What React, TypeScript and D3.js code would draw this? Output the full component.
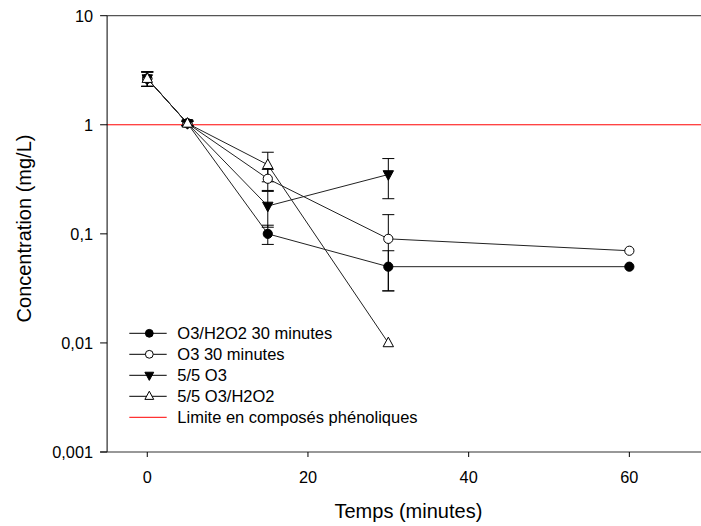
import React from "react";
import * as d3 from "d3";

const W = 701;
const H = 526;

const seriesNames = ["O3/H2O2 30 minutes", "O3 30 minutes", "5/5 O3", "5/5 O3/H2O2"];
const seriesMarkers = ["circleFilled", "circleOpen", "triDown", "triUp"];

const timesLong = [0, 5, 15, 30, 60];
const timesShort = [0, 5, 15, 30];

const o3h2o2_30_values = [2.65, 1.03, 0.1, 0.05, 0.05];
const o3h2o2_30_errors = [0.4, 0.05, 0.02, 0.02, 0];

const o3_30_values = [2.65, 1.03, 0.32, 0.09, 0.07];
const o3_30_errors = [0.4, 0.05, 0.07, 0.06, 0];

const o3_55_values = [2.65, 1.03, 0.18, 0.35];
const o3_55_errors = [0.4, 0.05, 0.065, 0.14];

const o3h2o2_55_values = [2.65, 1.03, 0.43, 0.01];
const o3h2o2_55_errors = [0.4, 0.05, 0.13, 0];

const limitValue = 1;
const limitLabel = "Limite en composés phénoliques";

const xTicks = [0, 20, 40, 60];
const yTicks = [10, 1, 0.1, 0.01, 0.001];
const yTickLabels = ["10", "1", "0,1", "0,01", "0,001"];

const xTitle = "Temps (minutes)";
const yTitle = "Concentration (mg/L)";

const FONT = "'Liberation Sans', Arial, sans-serif";

function Marker({ type, cx, cy, s = 1 }: { type: string; cx: number; cy: number; s?: number }) {
  if (type === "circleFilled" || type === "circleOpen") {
    return (
      <circle
        cx={cx}
        cy={cy}
        r={4.6 * s}
        fill={type === "circleFilled" ? "#000" : "#fff"}
        stroke="#000"
        strokeWidth={1}
      />
    );
  }
  const hw = 5.2 * s;
  const hh = 4.8 * s;
  const pts =
    type === "triUp"
      ? [[cx, cy - hh - 1], [cx + hw, cy + hh - 1], [cx - hw, cy + hh - 1]]
      : [[cx, cy + hh + 1], [cx + hw, cy - hh + 1], [cx - hw, cy - hh + 1]];
  return (
    <polygon
      points={pts.map((p) => p.join(",")).join(" ")}
      fill={type === "triDown" ? "#000" : "#fff"}
      stroke="#000"
      strokeWidth={1}
    />
  );
}

export default function App() {
  const x = d3.scaleLinear().domain([-5, 70]).range([107.1, 709.7]);
  const y = d3.scaleLog().domain([0.001, 10]).range([452, 15.7]);

  const series = [
    { name: seriesNames[0], marker: seriesMarkers[0], xs: timesLong, ys: o3h2o2_30_values, es: o3h2o2_30_errors },
    { name: seriesNames[1], marker: seriesMarkers[1], xs: timesLong, ys: o3_30_values, es: o3_30_errors },
    { name: seriesNames[2], marker: seriesMarkers[2], xs: timesShort, ys: o3_55_values, es: o3_55_errors },
    { name: seriesNames[3], marker: seriesMarkers[3], xs: timesShort, ys: o3h2o2_55_values, es: o3h2o2_55_errors },
  ];

  const line = d3
    .line<[number, number]>()
    .x((d) => x(d[0]))
    .y((d) => y(d[1]));

  const left = x(-5);
  const right = x(70);
  const top = y(10);
  const bottom = y(0.001);

  const legendX = 129.3;
  const legendY0 = 333.3;
  const legendDy = 21;

  return (
    <svg
      width={W}
      height={H}
      style={{ position: "absolute", left: 0, top: 0, background: "#fff" }}
      fontFamily={FONT}
    >
      <rect x={0} y={0} width={W} height={H} fill="#fff" />
      <defs>
        <clipPath id="plot">
          <rect x={left} y={top - 10} width={right - left + 10} height={bottom - top + 20} />
        </clipPath>
      </defs>

      {/* frame */}
      <line x1={left} x2={right} y1={top} y2={top} stroke="#555" strokeWidth={1.2} />
      <line x1={right} x2={right} y1={top} y2={bottom} stroke="#555" strokeWidth={1.2} />

      {/* limit line */}
      <line x1={left} x2={right} y1={y(limitValue)} y2={y(limitValue)} stroke="#ff0000" strokeWidth={1} />

      {/* series lines */}
      {series.map((s, i) => (
        <path
          key={"l" + i}
          d={line(s.xs.map((t, j) => [t, s.ys[j]] as [number, number])) || ""}
          fill="none"
          stroke="#222"
          strokeWidth={1}
        />
      ))}

      {/* error bars */}
      {series.map((s, i) =>
        s.xs.map((t, j) => {
          const e = s.es[j];
          if (!e) return null;
          const cx = x(t);
          const y1 = y(s.ys[j] + e);
          const y2 = y(Math.max(s.ys[j] - e, 0.0011));
          return (
            <g key={"e" + i + "-" + j} stroke="#000" strokeWidth={1}>
              <line x1={cx} x2={cx} y1={y1} y2={y2} />
              <line x1={cx - 6} x2={cx + 6} y1={y1} y2={y1} />
              <line x1={cx - 6} x2={cx + 6} y1={y2} y2={y2} />
            </g>
          );
        })
      )}

      {/* markers */}
      {series.map((s, i) =>
        s.xs.map((t, j) => (
          <Marker key={"m" + i + "-" + j} type={s.marker} cx={x(t)} cy={y(s.ys[j])} />
        ))
      )}

      {/* axes */}
      <line x1={left} x2={left} y1={top} y2={bottom} stroke="#000" strokeWidth={1} />
      <line x1={left - 7} x2={right} y1={bottom} y2={bottom} stroke="#333" strokeWidth={1.2} />

      {yTicks.map((v, i) => (
        <g key={"yt" + i}>
          <line x1={left - 7} x2={left} y1={y(v)} y2={y(v)} stroke="#000" strokeWidth={1} />
          <text
            x={93}
            y={y(v)}
            dy="0.36em"
            textAnchor="end"
            fontSize={16.3}
            fill="#000"
          >
            {yTickLabels[i]}
          </text>
        </g>
      ))}

      {xTicks.map((v, i) => (
        <g key={"xt" + i}>
          <line x1={x(v)} x2={x(v)} y1={bottom} y2={bottom + 5} stroke="#000" strokeWidth={1} />
          <text x={x(v)} y={483} textAnchor="middle" fontSize={16.3} fill="#000">
            {String(v)}
          </text>
        </g>
      ))}

      <text x={(left + right) / 2} y={518} textAnchor="middle" fontSize={20} fill="#000">
        {xTitle}
      </text>
      <text
        transform={`translate(31, ${228.5}) rotate(-90)`}
        textAnchor="middle"
        fontSize={20}
        fill="#000"
      >
        {yTitle}
      </text>

      {/* legend */}
      {series.map((s, i) => {
        const ly = legendY0 + i * legendDy;
        return (
          <g key={"lg" + i}>
            <line x1={legendX} x2={legendX + 37.4} y1={ly} y2={ly} stroke="#000" strokeWidth={1} />
            <Marker type={s.marker} cx={legendX + 20} cy={ly} s={0.85} />
            <text x={177.3} y={ly + 5.6} fontSize={16.5} fill="#000">
              {s.name}
            </text>
          </g>
        );
      })}
      <line
        x1={legendX}
        x2={legendX + 37.4}
        y1={legendY0 + 4 * legendDy}
        y2={legendY0 + 4 * legendDy}
        stroke="#ff0000"
        strokeWidth={1}
      />
      <text x={177.3} y={legendY0 + 4 * legendDy + 5.6} fontSize={16.5} fill="#000">
        {limitLabel}
      </text>
    </svg>
  );
}
